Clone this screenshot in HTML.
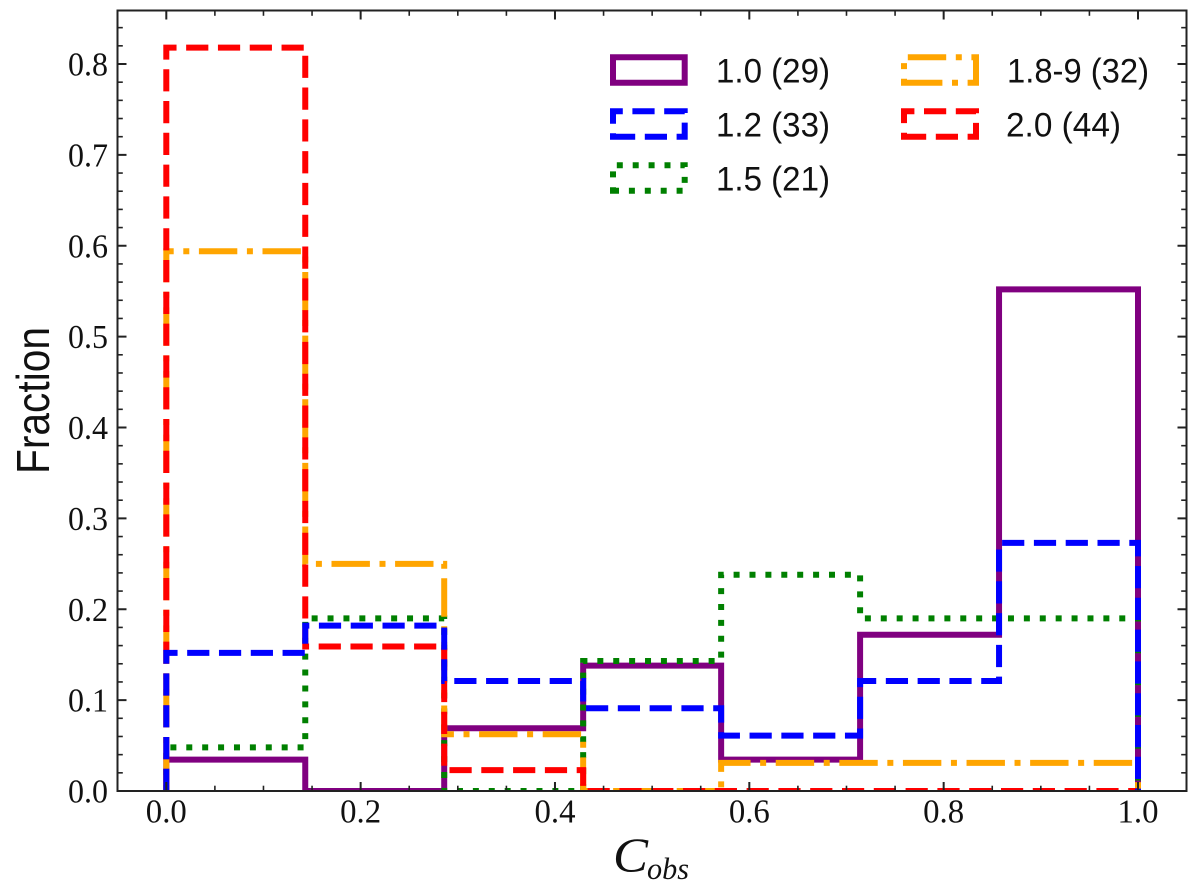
<!DOCTYPE html>
<html lang="en">
<head>
<meta charset="utf-8">
<title>Fraction vs Cobs histogram</title>
<style>
html,body{margin:0;padding:0;background:#fff;}
svg{display:block;}
.tick-text{font-family:"Liberation Serif",serif;font-size:34px;fill:#111;}
.leg-text{font-family:"Liberation Sans",sans-serif;font-size:34px;fill:#111;}
</style>
</head>
<body>
<svg id="chart" xmlns="http://www.w3.org/2000/svg" width="1200" height="887" viewBox="0 0 1200 887">
  <defs><clipPath id="plot-clip"><rect x="117.5" y="10.5" width="1069" height="780.5"/></clipPath></defs>
  <rect x="0" y="0" width="1200" height="887" fill="#fff"/>
  <g id="series" clip-path="url(#plot-clip)"></g>
  <g id="ticks"></g>
  <rect x="117.5" y="10.5" width="1069" height="780.5" fill="none" stroke="#222" stroke-width="2"/>
  <g id="tick-labels"></g>
  <text transform="translate(49,474) rotate(-90)" font-family="'Liberation Sans',sans-serif" font-size="46" fill="#111" textLength="147" lengthAdjust="spacingAndGlyphs">Fraction</text>
  <g font-family="'Liberation Serif',serif" font-style="italic" fill="#111">
    <text x="613" y="871.5" font-size="49" textLength="35" lengthAdjust="spacingAndGlyphs">C</text>
    <text x="647" y="879" font-size="31" textLength="42" lengthAdjust="spacingAndGlyphs">obs</text>
  </g>
  <g id="legend"></g>
</svg>
<script>
// Chart data
const binEdges = [0, 0.143, 0.286, 0.429, 0.571, 0.714, 0.857, 1.0];
const seriesLabels = ["1.0 (29)", "1.2 (33)", "1.5 (21)", "1.8-9 (32)", "2.0 (44)"];
const fraction10 = [0.0345, 0, 0.069, 0.138, 0.0345, 0.172, 0.552];
const fraction12 = [0.152, 0.182, 0.121, 0.091, 0.061, 0.121, 0.273];
const fraction15 = [0.048, 0.19, 0, 0.143, 0.238, 0.19, 0.19];
const fraction189 = [0.594, 0.25, 0.0625, 0, 0.031, 0.031, 0.031];
const fraction20 = [0.818, 0.159, 0.023, 0, 0, 0, 0];
const xTickLabels = ["0.0", "0.2", "0.4", "0.6", "0.8", "1.0"];
const yTickLabels = ["0.0", "0.1", "0.2", "0.3", "0.4", "0.5", "0.6", "0.7", "0.8"];

// Axis functions
const NS = "http://www.w3.org/2000/svg";
const xScale = v => 166.3 + v * 971.7;
const yScale = v => 791 - v * 908.75;
const frameLeft = 117.5, frameRight = 1186.5, frameTop = 10.5, frameBottom = 791;

function make(tag, attrs, parent) {
  const el = document.createElementNS(NS, tag);
  for (const k in attrs) el.setAttribute(k, attrs[k]);
  parent.appendChild(el);
  return el;
}

const styles = {
  "1.0 (29)": { color: "#800080", dash: "none" },
  "1.2 (33)": { color: "#0000ff", dash: "22.2 9.6" },
  "1.5 (21)": { color: "#008000", dash: "6 9.9" },
  "1.8-9 (32)": { color: "#ffa500", dash: "38.4 9.6 6 9.6" },
  "2.0 (44)": { color: "#ff0000", dash: "22.2 9.6" }
};
const valuesByLabel = {
  "1.0 (29)": fraction10,
  "1.2 (33)": fraction12,
  "1.5 (21)": fraction15,
  "1.8-9 (32)": fraction189,
  "2.0 (44)": fraction20
};

// Series are painted in this stacking order
const seriesGroup = document.getElementById("series");
[0, 2, 3, 4, 1].forEach(i => {
  const label = seriesLabels[i];
  const vals = valuesByLabel[label];
  let d = "M" + xScale(binEdges[0]) + " " + yScale(0);
  vals.forEach((v, b) => {
    d += "L" + xScale(binEdges[b]) + " " + yScale(v);
    d += "L" + xScale(binEdges[b + 1]) + " " + yScale(v);
  });
  d += "L" + xScale(binEdges[binEdges.length - 1]) + " " + yScale(0);
  const s = styles[label];
  const p = make("path", { d: d, fill: "none", stroke: s.color, "stroke-width": 6, "stroke-linejoin": "miter", "stroke-linecap": "butt" }, seriesGroup);
  if (s.dash !== "none") p.setAttribute("stroke-dasharray", s.dash);
  
  
});

// Ticks
const tickGroup = document.getElementById("ticks");
function tick(x1, y1, x2, y2, w) {
  const t = make("line", { x1: x1, y1: y1, x2: x2, y2: y2, stroke: "#222", "stroke-width": w }, tickGroup);
  
  
}
for (let i = 0; i <= 22; i++) {
  const v = -0.05 + i * 0.05;
  const major = i % 4 === 1;
  const len = major ? 9 : 5.3, w = major ? 2 : 1.6, x = xScale(v);
  tick(x, frameBottom, x, frameBottom - len, w);
  tick(x, frameTop, x, frameTop + len, w);
}
for (let i = 0; i <= 42; i++) {
  const v = i * 0.02;
  const major = i % 5 === 0;
  const len = major ? 9 : 5.3, w = major ? 2 : 1.6, y = yScale(v);
  tick(frameLeft, y, frameLeft + len, y, w);
  tick(frameRight, y, frameRight - len, y, w);
}

// Tick labels
const labelGroup = document.getElementById("tick-labels");
xTickLabels.forEach(txt => {
  const t = make("text", { x: xScale(parseFloat(txt)) - 20.5, y: 822.7, class: "tick-text", textLength: 41, lengthAdjust: "spacingAndGlyphs" }, labelGroup);
  t.textContent = txt;
  
  
});
yTickLabels.forEach(txt => {
  const t = make("text", { x: 68, y: yScale(parseFloat(txt)) + 11.5, class: "tick-text", textLength: 40, lengthAdjust: "spacingAndGlyphs" }, labelGroup);
  t.textContent = txt;
  
  
});

// Legend
const legendGroup = document.getElementById("legend");
const legendBoxes = [[613, 57.3, 71.7, 25.4, 716, 82.5, 114], [613, 111.3, 71.7, 25.4, 716, 136.5, 114], [613, 165.3, 71.7, 25.4, 716, 190.5, 114], [904, 57.3, 72, 25.4, 1007, 82.5, 142], [904, 111.3, 72, 25.4, 1006, 136.5, 115]];
seriesLabels.forEach((label, i) => {
  const b = legendBoxes[i], s = styles[label];
  const d = "M" + b[0] + " " + (b[1] + b[3]) + "h" + b[2] + "v" + (-b[3]) + "h" + (-b[2]) + "Z";
  const p = make("path", { d: d, fill: "none", stroke: s.color, "stroke-width": 6, "stroke-linejoin": "miter" }, legendGroup);
  if (s.dash !== "none") p.setAttribute("stroke-dasharray", s.dash);
  
  
  const t = make("text", { x: b[4], y: b[5], class: "leg-text", textLength: b[6], lengthAdjust: "spacingAndGlyphs" }, legendGroup);
  t.textContent = label;
  
  
});
</script>
</body>
</html>
